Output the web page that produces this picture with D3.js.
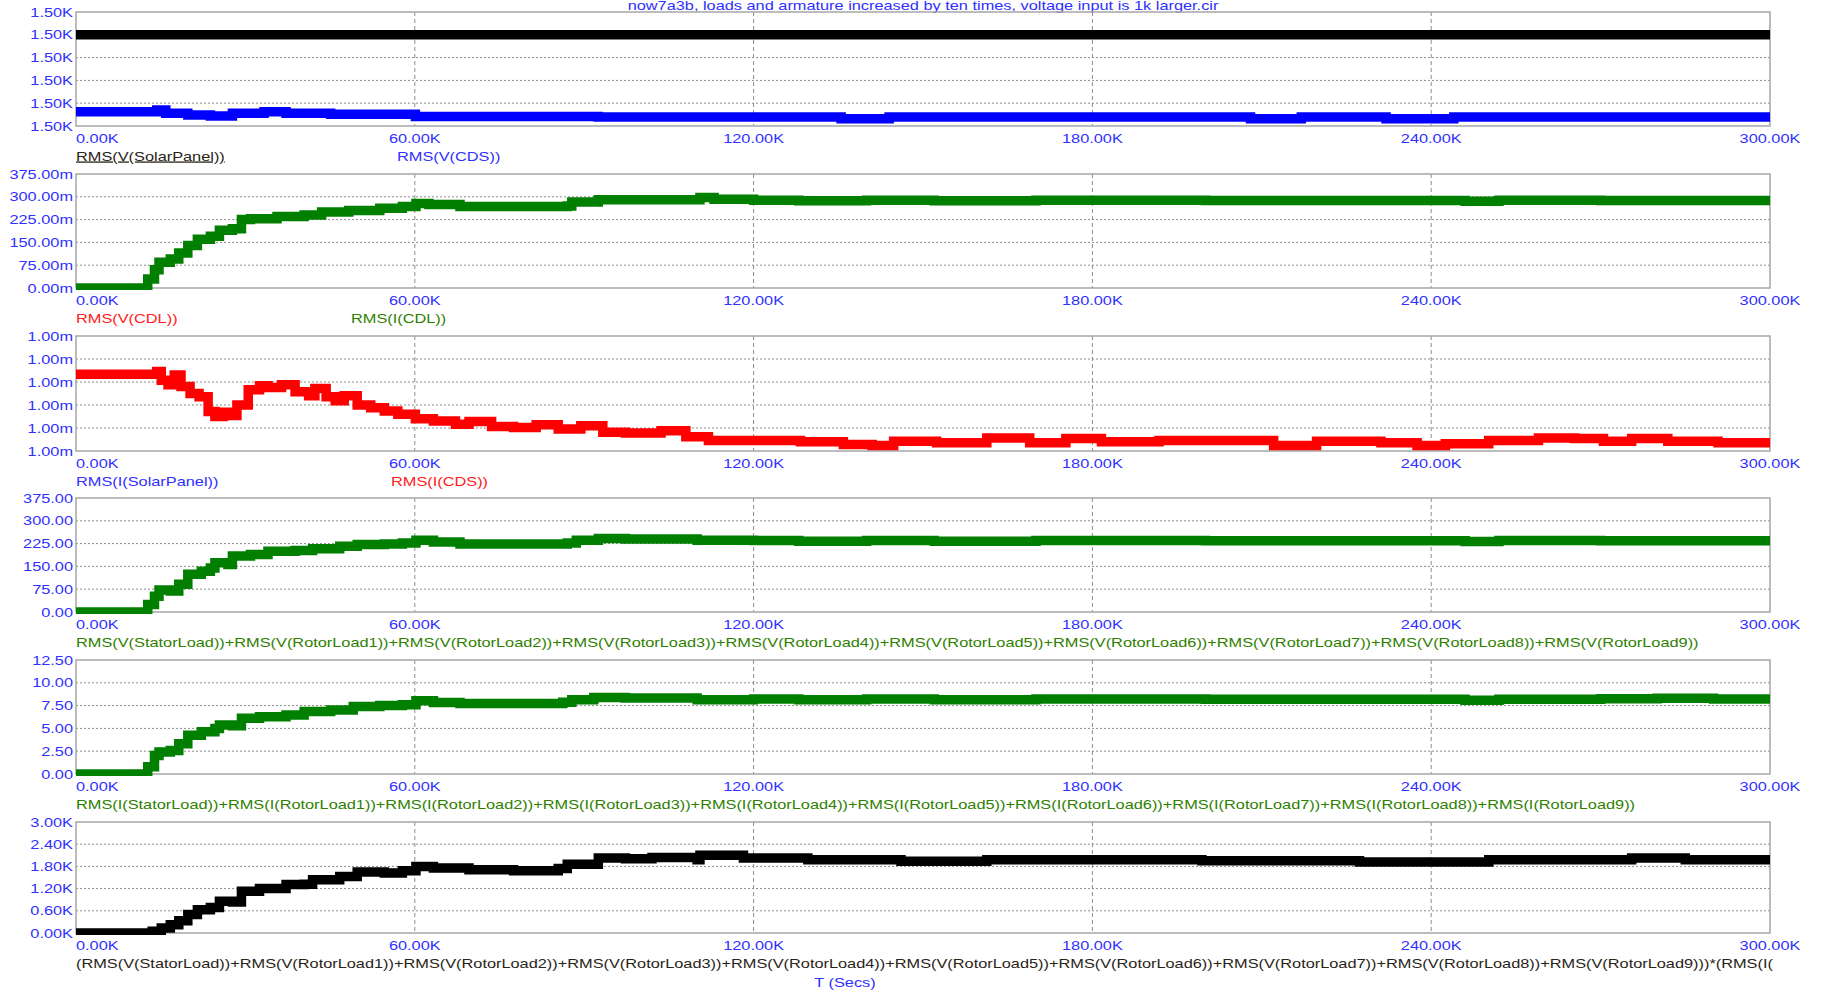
<!DOCTYPE html>
<html>
<head>
<meta charset="utf-8">
<script src="https://cdnjs.cloudflare.com/ajax/libs/d3/7.8.5/d3.min.js"></script>
<style>
  html, body { margin: 0; padding: 0; background: #ffffff; }
  svg { display: block; }
  text { font-family: "Liberation Sans", Arial, sans-serif; font-size: 13px; }
</style>
</head>
<body>
<svg id="chart" width="1824" height="993"></svg>
<script>
// ---- time axis (seconds, values in K) ----
const xTickValues = [0, 60, 120, 180, 240, 300];
const xTickLabels = ["0.00K", "60.00K", "120.00K", "180.00K", "240.00K", "300.00K"];

// ---- panel 1: RMS(V(SolarPanel)) and RMS(V(CDS)), volts ----
const p1Ticks = [1499.90, 1499.95, 1500.00, 1500.05, 1500.10, 1500.15];
const p1Labels = ["1.50K", "1.50K", "1.50K", "1.50K", "1.50K", "1.50K"];
const solarPanelV_t = [0, 300];
const solarPanelV = [1500.10, 1500.10];
const cdsV_t = [0, 14.3, 15.9, 19.8, 23.8, 27.7, 33.3, 37.2, 45.1, 60.1, 92.5, 135.5, 144, 208, 217, 232, 244, 300];
const cdsV = [1499.931, 1499.935, 1499.928, 1499.924, 1499.922, 1499.928, 1499.931, 1499.928, 1499.926, 1499.921,
              1499.920, 1499.916, 1499.920, 1499.916, 1499.920, 1499.916, 1499.920, 1499.920];

// ---- panel 2: RMS(I(CDL)), mA ----
const p2Ticks = [0, 75, 150, 225, 300, 375];
const p2Labels = ["0.00m", "75.00m", "150.00m", "225.00m", "300.00m", "375.00m"];
const cdlI_t = [0, 12.7, 13.9, 14.7, 16.7, 18.2, 19.8, 21.5, 23.8, 25.4, 27.7, 29.3, 30.9, 35.6, 40.4, 43.5, 48.3,
                53.8, 57.8, 60.2, 62.5, 68, 87, 87.8, 92.5, 110.5, 113, 120, 128, 140, 152, 170, 200, 246, 252, 270, 300];
const cdlI = [0, 30, 60, 85, 95, 115, 140, 160, 170, 190, 195, 225, 228, 235, 240, 250, 255,
              262, 268, 278, 275, 268, 270, 283, 290, 298, 292, 289, 287, 289, 287, 289, 288, 285, 289, 288, 288];

// ---- panel 3: RMS(I(CDS)), mA ----
const p3Ticks = [0.9990, 0.9995, 1.0000, 1.0005, 1.0010, 1.0015];
const p3Labels = ["1.00m", "1.00m", "1.00m", "1.00m", "1.00m", "1.00m"];
const cdsI_t = [0, 14.3, 15.1, 16.3, 17.4, 18.6, 20.2, 21.8, 23.4, 24.6, 26.1, 27.7, 28.5, 30.5, 32.5, 34.0, 36.4,
                38.8, 41.2, 42.3, 44.3, 45.9, 47.5, 49.8, 52.2, 54.6, 57.0, 60.1, 63.3, 67.2, 69.6, 73.6, 77.5,
                81.5, 85.4, 89.4, 93.3, 97.3, 103.6, 108, 112, 128.3, 135.9, 141.0, 144.8, 152.4, 161.3, 168.9,
                175.3, 181.6, 191.8, 201.9, 212.1, 219.7, 231.1, 237.5, 242.5, 250.2, 259.0, 265.4, 270.5, 275.5,
                281.9, 290.8, 300];
const cdsI = [1.00067, 1.00073, 1.00054, 1.00044, 1.00065, 1.00040, 1.00025, 1.00018, 0.99986, 0.99975, 0.99984,
              0.99977, 1.00000, 1.00033, 1.00042, 1.00038, 1.00044, 1.00029, 1.00020, 1.00036, 1.00018, 1.00009,
              1.00020, 1.00000, 0.99994, 0.99987, 0.99980, 0.99970, 0.99965, 0.99958, 0.99964, 0.99953, 0.99951,
              0.99957, 0.99948, 0.99955, 0.99941, 0.99939, 0.99944, 0.99931, 0.99923, 0.99920, 0.99914, 0.99912,
              0.99921, 0.99918, 0.99928, 0.99918, 0.99927, 0.99920, 0.99923, 0.99923, 0.99912, 0.99921, 0.99918,
              0.99912, 0.99916, 0.99923, 0.99928, 0.99927, 0.99921, 0.99927, 0.99921, 0.99918, 0.99920];

// ---- panel 4: sum of load voltages, V ----
const p4Ticks = [0, 75, 150, 225, 300, 375];
const p4Labels = ["0.00", "75.00", "150.00", "225.00", "300.00", "375.00"];
const loadV_t = [0, 12.7, 13.9, 14.7, 16.7, 18.2, 19.8, 22.2, 23.8, 24.6, 26.9, 27.7, 30.9, 34.0, 38.8, 41.9, 46.7,
                 49.8, 54.6, 57.8, 60.2, 63.3, 68, 87, 88.6, 92.5, 97.3, 110, 120, 128, 140, 152, 170, 200, 246,
                 252, 270, 300];
const loadV = [0, 25, 52, 72, 69, 91, 124, 134, 145, 162, 156, 184, 189, 200, 202, 208, 216,
               222, 224, 227, 236, 230, 224, 227, 236, 242, 240, 236, 235, 233, 235, 233, 235, 234, 232,
               235, 234, 234];

// ---- panel 5: sum of load currents, A ----
const p5Ticks = [0, 2.5, 5, 7.5, 10, 12.5];
const p5Labels = ["0.00", "2.50", "5.00", "7.50", "10.00", "12.50"];
const loadI_t = [0, 12.7, 13.9, 14.7, 16.7, 18.2, 19.8, 22.2, 24.6, 25.4, 27.7, 29.3, 32.5, 37.2, 40.4, 45.1, 49.1,
                 53.8, 57.8, 60.2, 63.3, 68, 86.2, 87.8, 91.7, 97.3, 110, 120, 128, 140, 152, 170, 200, 246, 252,
                 270, 280, 290, 300];
const loadI = [0, 0.8, 2.03, 2.4, 2.59, 3.33, 4.25, 4.62, 4.99, 5.36, 5.29, 6.1, 6.29, 6.47, 6.84, 7.03, 7.40,
               7.51, 7.58, 8.03, 7.84, 7.73, 7.88, 8.14, 8.40, 8.32, 8.14, 8.22, 8.15, 8.22, 8.15, 8.22, 8.20,
               8.10, 8.20, 8.25, 8.30, 8.22, 8.20];

// ---- panel 6: voltage sum times current sum, K ----
const p6Ticks = [0, 0.6, 1.2, 1.8, 2.4, 3.0];
const p6Labels = ["0.00K", "0.60K", "1.20K", "1.80K", "2.40K", "3.00K"];
const power_t = [0, 13.5, 15.1, 16.7, 18.2, 19.8, 21.5, 23.8, 25.4, 27.7, 29.3, 32.5, 37.2, 40.4, 41.9, 46.7, 49.8,
                 54.6, 57.8, 60.2, 63.3, 69.6, 77.5, 85.4, 87, 92.5, 97.3, 102, 110, 110.5, 118.2, 129.6, 146.1,
                 161.3, 180.4, 199.4, 227.3, 250.2, 275.5, 285, 300];
const power = [0, 0.05, 0.135, 0.225, 0.33, 0.50, 0.63, 0.69, 0.86, 0.84, 1.13, 1.20, 1.31, 1.32, 1.44, 1.53, 1.65,
               1.62, 1.68, 1.80, 1.76, 1.71, 1.68, 1.74, 1.86, 2.03, 2.01, 2.04, 1.98, 2.10, 2.03, 1.98, 1.94,
               1.98, 1.98, 1.95, 1.92, 1.98, 2.03, 1.98, 1.98];

const titleText = "now7a3b, loads and armature increased by ten times, voltage input is 1k larger.cir";

// ---- colours ----
const AXIS_BLUE = "#3030ff";
const TRACE_BLACK = "#000000";
const TRACE_BLUE = "#0000ff";
const TRACE_GREEN = "#007f00";
const TRACE_RED = "#ff0000";
const LEGEND_GREEN = "#2f7f00";
const LEGEND_DARK = "#2a2418";

// ---- layout ----
const LEFT = 76, RIGHT = 1770;
const SX = 1.257;           // horizontal stretch of the plot text
const STROKE = 9.5;

const vLoads = ["RMS(V(StatorLoad))"].concat(d3.range(1, 10).map(i => `RMS(V(RotorLoad${i}))`)).join("+");
const iLoads = ["RMS(I(StatorLoad))"].concat(d3.range(1, 10).map(i => `RMS(I(RotorLoad${i}))`)).join("+");

const panels = [
  { top: 12, bottom: 126, ticks: p1Ticks, labels: p1Labels,
    traces: [{ t: solarPanelV_t, v: solarPanelV, color: TRACE_BLACK }, { t: cdsV_t, v: cdsV, color: TRACE_BLUE }],
    legend: [{ x: 76, text: "RMS(V(SolarPanel))", color: LEGEND_DARK, underline: true },
             { x: 397, text: "RMS(V(CDS))", color: AXIS_BLUE }] },
  { top: 174, bottom: 288, ticks: p2Ticks, labels: p2Labels,
    traces: [{ t: cdlI_t, v: cdlI, color: TRACE_GREEN }],
    legend: [{ x: 76, text: "RMS(V(CDL))", color: "#ff2020" },
             { x: 351, text: "RMS(I(CDL))", color: LEGEND_GREEN }] },
  { top: 336, bottom: 451, ticks: p3Ticks, labels: p3Labels,
    traces: [{ t: cdsI_t, v: cdsI, color: TRACE_RED }],
    legend: [{ x: 76, text: "RMS(I(SolarPanel))", color: AXIS_BLUE },
             { x: 391, text: "RMS(I(CDS))", color: "#ff2020" }] },
  { top: 498, bottom: 612, ticks: p4Ticks, labels: p4Labels,
    traces: [{ t: loadV_t, v: loadV, color: TRACE_GREEN }],
    legend: [{ x: 76, text: vLoads, color: LEGEND_GREEN }] },
  { top: 660, bottom: 774, ticks: p5Ticks, labels: p5Labels,
    traces: [{ t: loadI_t, v: loadI, color: TRACE_GREEN }],
    legend: [{ x: 76, text: iLoads, color: LEGEND_GREEN }] },
  { top: 822, bottom: 933, ticks: p6Ticks, labels: p6Labels,
    traces: [{ t: power_t, v: power, color: TRACE_BLACK }],
    legend: [{ x: 76, text: "(" + vLoads + ")*(RMS(I(", color: LEGEND_DARK }] }
];

const svg = d3.select("#chart");
const x = d3.scaleLinear().domain([0, 300]).range([LEFT, RIGHT]);

// stretched text helper
function label(parent, px, py, str, color, anchor) {
  return parent.append("text")
    .attr("transform", `translate(${px},${py}) scale(${SX},1)`)
    .attr("text-anchor", anchor || "start")
    .attr("dy", "0.35em")
    .attr("fill", color)
    .text(str);
}

// title, centred over the plot area
label(svg, (LEFT + RIGHT) / 2, 5.5, titleText, AXIS_BLUE, "middle");

panels.forEach((p, i) => {
  const g = svg.append("g");
  const y = d3.scaleLinear().domain([p.ticks[0], p.ticks[p.ticks.length - 1]]).range([p.bottom, p.top]);

  // horizontal dotted grid
  g.selectAll("line.hgrid").data(p.ticks.slice(1, -1)).join("line")
    .attr("x1", LEFT).attr("x2", RIGHT)
    .attr("y1", d => y(d)).attr("y2", d => y(d))
    .attr("stroke", "#8c8c8c").attr("stroke-width", 1).attr("stroke-dasharray", "2,2");

  // vertical dashed grid
  g.selectAll("line.vgrid").data(xTickValues.slice(1, -1)).join("line")
    .attr("x1", d => x(d)).attr("x2", d => x(d))
    .attr("y1", p.top).attr("y2", p.bottom)
    .attr("stroke", "#8c8c8c").attr("stroke-width", 1).attr("stroke-dasharray", "4,3");

  // frame
  g.append("rect")
    .attr("x", LEFT).attr("y", p.top)
    .attr("width", RIGHT - LEFT).attr("height", p.bottom - p.top)
    .attr("fill", "none").attr("stroke", "#a6a6a6").attr("stroke-width", 1.5);

  // traces, clipped to the plot area
  const clipId = "clip" + i;
  svg.append("clipPath").attr("id", clipId).append("rect")
    .attr("x", LEFT).attr("y", p.top - 1)
    .attr("width", RIGHT - LEFT).attr("height", p.bottom - p.top + 3);

  const line = d3.line()
    .x(d => x(d[0])).y(d => y(d[1]))
    .curve(d3.curveStepAfter);

  p.traces.forEach(tr => {
    const pts = tr.t.map((t, k) => [t, tr.v[k]]);
    g.append("path")
      .attr("clip-path", `url(#${clipId})`)
      .attr("d", line(pts))
      .attr("fill", "none")
      .attr("stroke", tr.color)
      .attr("stroke-width", STROKE)
      .attr("stroke-linejoin", "miter");
  });

  // y tick labels
  p.ticks.forEach((tv, k) => {
    label(g, LEFT - 3, y(tv), p.labels[k], AXIS_BLUE, "end");
  });

  // x tick labels
  xTickValues.forEach((tv, k) => {
    label(g, k === 0 ? LEFT : x(tv), p.bottom + 12, xTickLabels[k], AXIS_BLUE, k === 0 ? "start" : "middle");
  });

  // trace names
  p.legend.forEach(L => {
    const t = label(g, L.x, p.bottom + 30, L.text, L.color, "start");
    if (L.underline) t.attr("text-decoration", "underline");
  });
});

// x axis name
label(svg, 845, 982, "T (Secs)", AXIS_BLUE, "middle");
</script>
</body>
</html>
